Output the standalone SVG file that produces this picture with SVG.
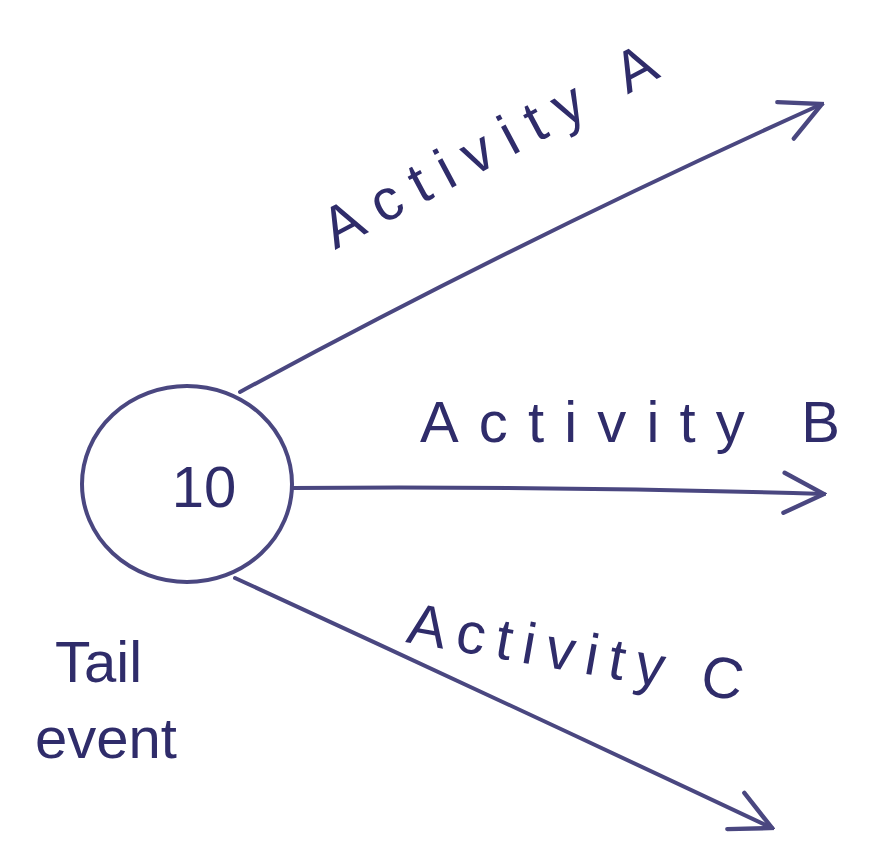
<svg xmlns="http://www.w3.org/2000/svg" width="874" height="852" viewBox="0 0 874 852">
<style>
.ln{fill:none;stroke:#4a4780;stroke-width:4;stroke-linecap:round;stroke-linejoin:round}
.tx{font-family:"Liberation Sans",Arial,sans-serif;fill:#2f2c6a;font-size:58px}
</style>
<defs>
<marker id="ahb" viewBox="0 0 40 40" refX="38" refY="20" markerWidth="50" markerHeight="50" markerUnits="userSpaceOnUse" orient="auto">
<path d="M6,4 L38,20 L6,36" fill="none" stroke="#4a4780" stroke-width="3.5" stroke-linecap="round"/>
</marker>
</defs>
<rect width="874" height="852" fill="#ffffff"/>
<g id="connectors">
<path id="edge-a" class="ln" d="M240,392 Q520,240 822,104" marker-end="url(#ahb)"/>
<path id="edge-b" class="ln" d="M292,488 Q560,486 824,494" marker-end="url(#ahb)"/>
<path id="edge-c" class="ln" d="M235,578 Q500,700 772,828" marker-end="url(#ahb)"/>
</g>
<g id="node-10">
<ellipse cx="187" cy="484" rx="105" ry="98" class="ln"/>
<text x="204" y="507" class="tx" text-anchor="middle" font-size="56">10</text>
</g>
<g id="label-tail">
<text x="55" y="682" class="tx" font-size="62">Tail</text>
<text x="35" y="758" class="tx" font-size="62">event</text>
</g>
<g id="label-a">
<text class="tx" font-size="58" textLength="370" lengthAdjust="spacing" transform="translate(335,250) rotate(-28)">Activity A</text>
</g>
<g id="label-b">
<text x="420" y="442" class="tx" font-size="58" textLength="420" lengthAdjust="spacing">Activity B</text>
</g>
<g id="label-c">
<text class="tx" font-size="56" textLength="340" lengthAdjust="spacing" transform="translate(405,642) rotate(10)">Activity C</text>
</g>
</svg>
